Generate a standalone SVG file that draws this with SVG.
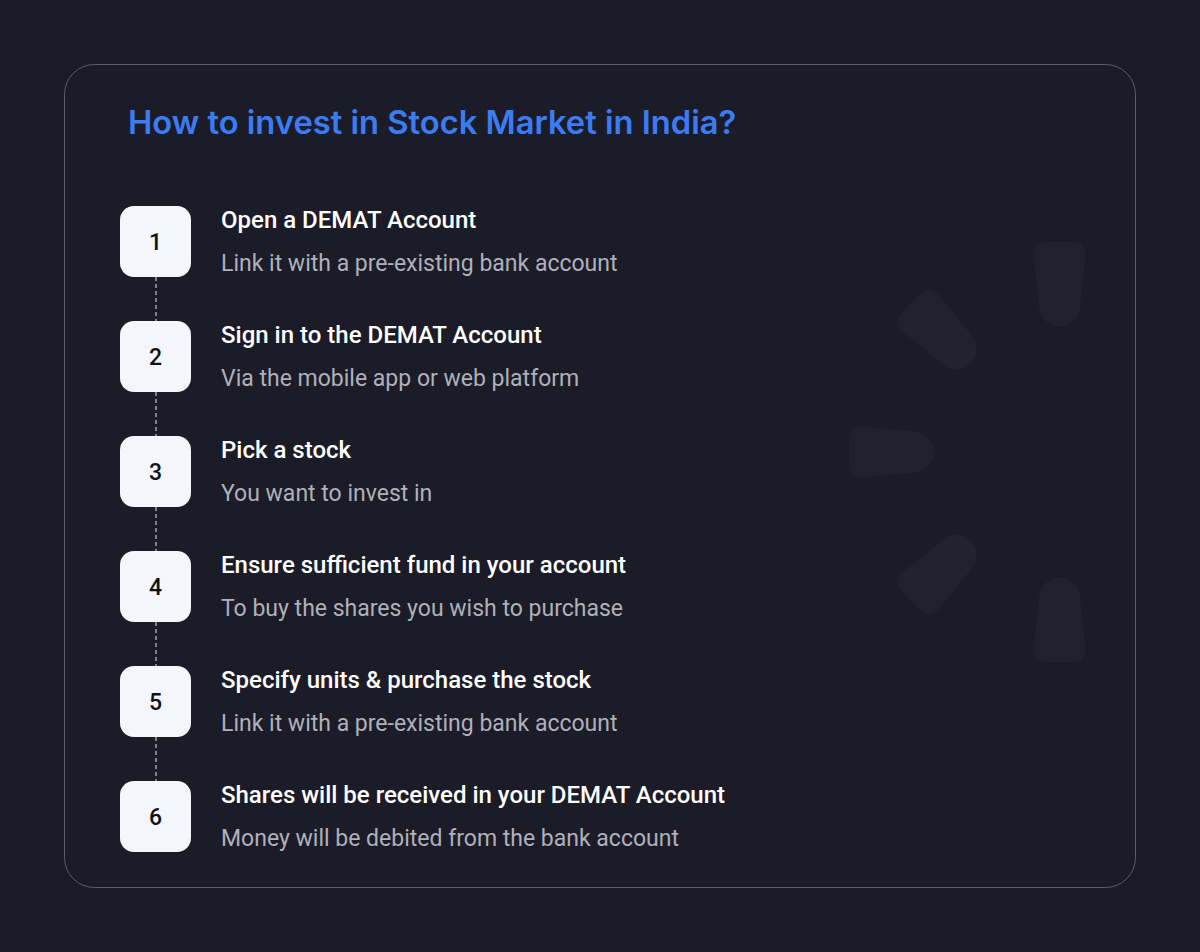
<svg xmlns="http://www.w3.org/2000/svg" width="1200" height="952" viewBox="0 0 1200 952">
<defs>
<style>
.bg{fill:#1b1c28}
.card{fill:#1b1c28;stroke:#5c5e69;stroke-width:1}
.blade{fill:#21222f}
.title{font-family:Inter,"Noto Sans",sans-serif;font-weight:600;font-size:32.7px;fill:#3b7cf4}
.box{fill:#f5f6fb}
.num{font-family:Roboto,"Liberation Sans",sans-serif;font-weight:500;font-size:23px;fill:#111218;text-anchor:middle}
.head{font-family:Roboto,"Liberation Sans",sans-serif;font-weight:500;font-size:24px;fill:#ffffff}
.sub{font-family:Roboto,"Liberation Sans",sans-serif;font-weight:400;font-size:23px;fill:#aeb0ba}
.conn{stroke:#e6e7ee;stroke-width:1;stroke-dasharray:4 3;fill:none}
</style>
<path id="bladeShape" d="M -12,-210 L 12,-210 Q 27,-210 25.5,-195 L 20.5,-146 A 20.5 20.5 0 0 1 -20.5,-146 L -25.5,-195 Q -27,-210 -12,-210 Z"/>
</defs>
<rect class="bg" x="0" y="0" width="1200" height="952"/>
<rect class="card" x="64.5" y="64.5" width="1071" height="823" rx="30"/>
<g id="spinner" class="blade" transform="translate(1059.5,452)">
<use href="#bladeShape"/>
<use href="#bladeShape" transform="rotate(180)"/>
<use href="#bladeShape" transform="rotate(-90)"/>
<use href="#bladeShape" transform="rotate(-45)"/>
<use href="#bladeShape" transform="rotate(-135)"/>
</g>
<text id="title" class="title" x="128" y="134">How to invest in Stock Market in India?</text>
<g id="connectors">
<line class="conn" x1="156" y1="277" x2="156" y2="321"/>
<line class="conn" x1="156" y1="392" x2="156" y2="436"/>
<line class="conn" x1="156" y1="507" x2="156" y2="551"/>
<line class="conn" x1="156" y1="622" x2="156" y2="666"/>
<line class="conn" x1="156" y1="737" x2="156" y2="781"/>
</g>
<g id="step1">
<rect class="box" x="120" y="206" width="71" height="71" rx="14"/>
<text class="num" x="155.5" y="250">1</text>
<text class="head" x="221" y="228">Open a DEMAT Account</text>
<text class="sub" x="221" y="271">Link it with a pre-existing bank account</text>
</g>
<g id="step2">
<rect class="box" x="120" y="321" width="71" height="71" rx="14"/>
<text class="num" x="155.5" y="365">2</text>
<text class="head" x="221" y="343">Sign in to the DEMAT Account</text>
<text class="sub" x="221" y="386">Via the mobile app or web platform</text>
</g>
<g id="step3">
<rect class="box" x="120" y="436" width="71" height="71" rx="14"/>
<text class="num" x="155.5" y="480">3</text>
<text class="head" x="221" y="458">Pick a stock</text>
<text class="sub" x="221" y="501">You want to invest in</text>
</g>
<g id="step4">
<rect class="box" x="120" y="551" width="71" height="71" rx="14"/>
<text class="num" x="155.5" y="595">4</text>
<text class="head" x="221" y="573">Ensure sufficient fund in your account</text>
<text class="sub" x="221" y="616">To buy the shares you wish to purchase</text>
</g>
<g id="step5">
<rect class="box" x="120" y="666" width="71" height="71" rx="14"/>
<text class="num" x="155.5" y="710">5</text>
<text class="head" x="221" y="688">Specify units &amp; purchase the stock</text>
<text class="sub" x="221" y="731">Link it with a pre-existing bank account</text>
</g>
<g id="step6">
<rect class="box" x="120" y="781" width="71" height="71" rx="14"/>
<text class="num" x="155.5" y="825">6</text>
<text class="head" x="221" y="803">Shares will be received in your DEMAT Account</text>
<text class="sub" x="221" y="846">Money will be debited from the bank account</text>
</g>
</svg>
